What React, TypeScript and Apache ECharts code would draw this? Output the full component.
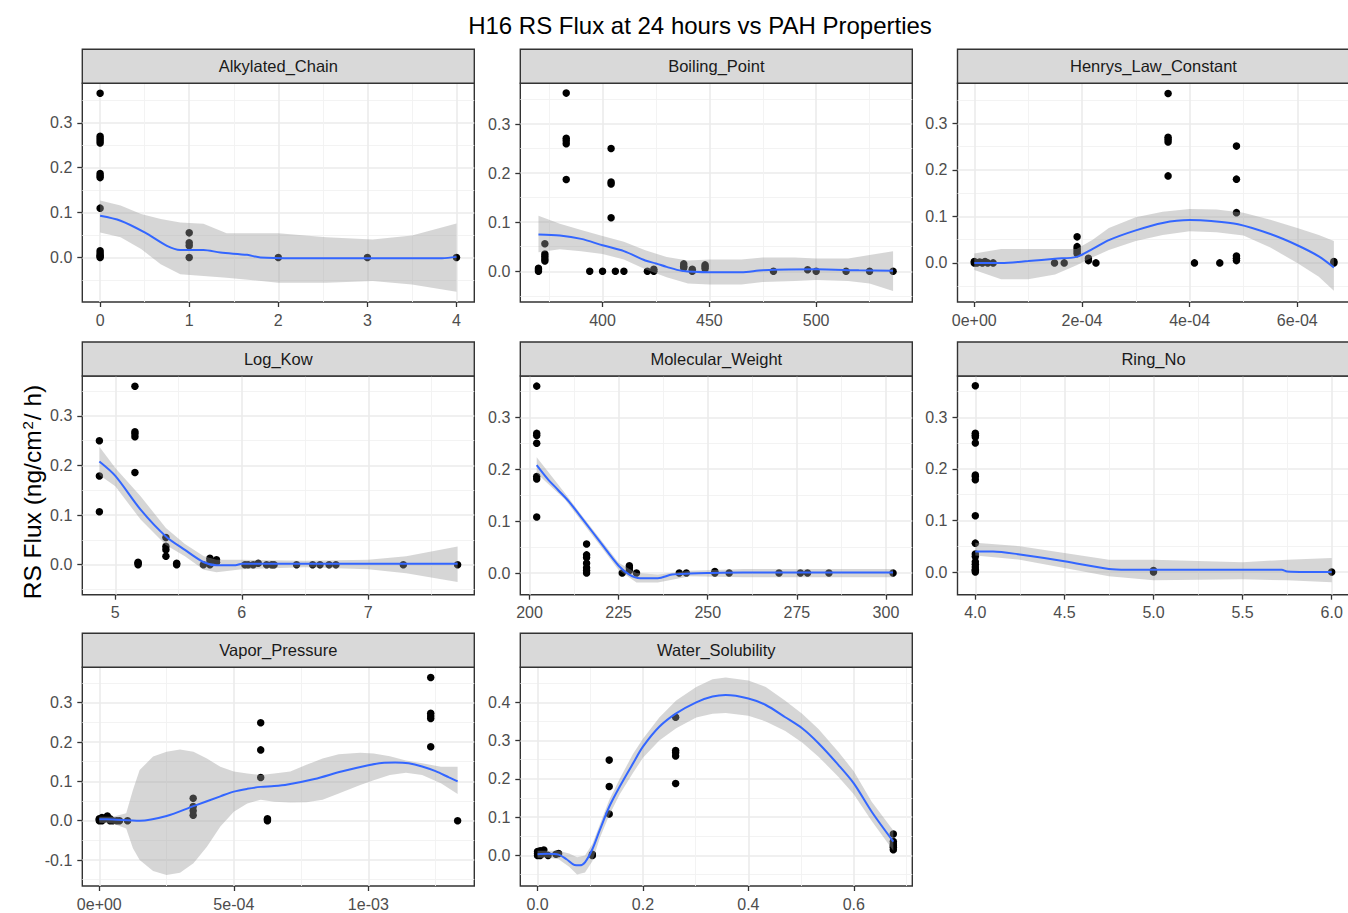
import React, { useEffect, useRef } from "react";
import * as echarts from "echarts";

// ---------------- DATA ----------------
const title = "H16 RS Flux at 24 hours vs PAH Properties";
const panelNames = [
  "Alkylated_Chain",
  "Boiling_Point",
  "Henrys_Law_Constant",
  "Log_Kow",
  "Molecular_Weight",
  "Ring_No",
  "Vapor_Pressure",
  "Water_Solubility",
];

// tick values / labels
const yTicksStd = [0, 0.1, 0.2, 0.3];
const yLabelsStd = ["0.0", "0.1", "0.2", "0.3"];
const yTicksVp = [-0.1, 0, 0.1, 0.2, 0.3];
const yLabelsVp = ["-0.1", "0.0", "0.1", "0.2", "0.3"];
const yTicksWs = [0, 0.1, 0.2, 0.3, 0.4];
const yLabelsWs = ["0.0", "0.1", "0.2", "0.3", "0.4"];

const alkTicks = [0, 1, 2, 3, 4];
const alkLabels = ["0", "1", "2", "3", "4"];
const bpTicks = [400, 450, 500];
const bpLabels = ["400", "450", "500"];
const hlcTicks = [0, 2e-4, 4e-4, 6e-4];
const hlcLabels = ["0e+00", "2e-04", "4e-04", "6e-04"];
const lkTicks = [5, 6, 7];
const lkLabels = ["5", "6", "7"];
const mwTicks = [200, 225, 250, 275, 300];
const mwLabels = ["200", "225", "250", "275", "300"];
const rnTicks = [4, 4.5, 5, 5.5, 6];
const rnLabels = ["4.0", "4.5", "5.0", "5.5", "6.0"];
const vpTicks = [0, 5e-4, 1e-3];
const vpLabels = ["0e+00", "5e-04", "1e-03"];
const wsTicks = [0, 0.2, 0.4, 0.6];
const wsLabels = ["0.0", "0.2", "0.4", "0.6"];

// Alkylated_Chain
const alkPtsX = [0, 0, 0, 0, 0, 0, 0, 0, 0, 0, 0, 0, 0, 0, 1, 1, 1, 1, 2, 3, 4];
const alkPtsY = [0.366, 0.27, 0.265, 0.26, 0.255, 0.187, 0.182, 0.178, 0.11, 0.015, 0.01, 0.005, 0.003, 0, 0.055, 0.033, 0.026, 0, 0, 0, 0];
const alkFitX = [0, 0.23, 0.5, 0.75, 0.9, 1.16, 1.35, 1.65, 1.8, 2.2, 2.6, 3, 3.4, 3.84, 4];
const alkFit = [0.093, 0.082, 0.056, 0.026, 0.017, 0.017, 0.011, 0.006, 0.0, -0.0015, -0.0015, -0.0015, -0.0015, -0.0015, 0.0015];
const alkBandX = [0, 0.23, 0.46, 0.68, 0.9, 1.16, 1.42, 2.0, 2.54, 3.06, 3.5, 4];
const alkHi = [0.127, 0.116, 0.097, 0.086, 0.078, 0.075, 0.054, 0.054, 0.045, 0.04, 0.049, 0.076];
const alkLo = [0.056, 0.045, 0.019, -0.015, -0.037, -0.041, -0.045, -0.056, -0.056, -0.052, -0.06, -0.076];

// Boiling_Point
const bpPtsX = [370, 370, 370, 373, 373, 373, 373, 373, 383, 383, 383, 383, 383, 394, 400, 404, 404, 404, 404, 406, 410, 421, 424, 424, 438, 438, 438, 442, 442, 448, 448, 448, 480, 496, 500, 514, 525, 536];
const bpPtsY = [0.006, 0.003, 0, 0.056, 0.035, 0.03, 0.025, 0.021, 0.363, 0.271, 0.266, 0.26, 0.187, 0, 0, 0.25, 0.182, 0.178, 0.109, 0, 0, 0, 0, 0.004, 0.015, 0.01, 0.007, 0.004, 0, 0.013, 0.009, 0.005, 0, 0.003, 0, 0, 0, 0];
const bpFitX = [370, 380, 390, 400, 410, 420, 425, 430, 437, 450, 465, 475, 500, 520, 536];
const bpFit = [0.075, 0.073, 0.066, 0.053, 0.041, 0.022, 0.016, 0.009, 0.001, -0.002, -0.002, 0.002, 0.004, 0.002, 0.001];
const bpBandX = [370, 380, 390, 400, 410, 420, 430, 440, 450, 465, 475, 490, 500, 515, 525, 536];
const bpHi = [0.113, 0.097, 0.084, 0.072, 0.06, 0.043, 0.029, 0.022, 0.024, 0.024, 0.028, 0.028, 0.026, 0.026, 0.033, 0.041];
const bpLo = [0.039, 0.045, 0.041, 0.035, 0.024, 0.004, -0.012, -0.025, -0.027, -0.027, -0.022, -0.02, -0.018, -0.02, -0.025, -0.04];

// Henrys_Law_Constant
const hlcPtsX = [0, 0, 0.05e-4, 0.1e-4, 0.15e-4, 0.2e-4, 0.25e-4, 0.35e-4, 1.49e-4, 1.67e-4, 1.91e-4, 1.91e-4, 1.91e-4, 1.91e-4, 1.91e-4, 2.12e-4, 2.12e-4, 2.26e-4, 3.6e-4, 3.6e-4, 3.6e-4, 3.6e-4, 3.6e-4, 4.09e-4, 4.56e-4, 4.87e-4, 4.87e-4, 4.87e-4, 4.87e-4, 4.87e-4, 4.87e-4, 6.68e-4, 6.68e-4];
const hlcPtsY = [0, 0.003, 0, 0.002, 0, 0.003, 0, 0, 0, 0, 0.056, 0.035, 0.03, 0.025, 0.02, 0.01, 0.005, 0, 0.364, 0.27, 0.265, 0.26, 0.187, 0, 0, 0.251, 0.18, 0.108, 0.015, 0.01, 0.005, 0.003, 0];
const hlcFitX = [0, 0.5e-4, 1e-4, 1.5e-4, 1.9e-4, 2.2e-4, 2.5e-4, 3e-4, 3.5e-4, 4e-4, 4.4e-4, 4.9e-4, 5.5e-4, 6e-4, 6.4e-4, 6.68e-4];
const hlcFit = [0, 0, 0.004, 0.009, 0.013, 0.03, 0.049, 0.07, 0.086, 0.092, 0.09, 0.083, 0.062, 0.038, 0.014, -0.01];
const hlcBandX = [0, 0.5e-4, 1e-4, 1.5e-4, 1.9e-4, 2.2e-4, 2.5e-4, 3e-4, 3.5e-4, 4e-4, 4.5e-4, 5e-4, 5.5e-4, 6e-4, 6.4e-4, 6.68e-4];
const hlcHi = [0.02, 0.03, 0.03, 0.03, 0.03, 0.05, 0.075, 0.098, 0.11, 0.116, 0.115, 0.108, 0.093, 0.075, 0.06, 0.047];
const hlcLo = [-0.015, -0.035, -0.035, -0.025, -0.005, 0.012, 0.028, 0.047, 0.06, 0.068, 0.066, 0.059, 0.033, 0.0, -0.03, -0.06];

// Log_Kow
const lkPtsX = [4.874, 4.874, 4.874, 5.155, 5.155, 5.155, 5.155, 5.155, 5.18, 5.18, 5.18, 5.4, 5.4, 5.4, 5.4, 5.485, 5.485, 5.696, 5.748, 5.748, 5.748, 5.8, 5.8, 6.025, 6.05, 6.09, 6.13, 6.196, 6.236, 6.255, 6.433, 6.56, 6.618, 6.69, 6.744, 7.277, 7.706];
const lkPtsY = [0.25, 0.179, 0.107, 0.36, 0.268, 0.264, 0.258, 0.186, 0.005, 0.003, 0, 0.055, 0.037, 0.03, 0.017, 0.003, 0, 0, 0.013, 0.008, 0, 0.01, 0.005, 0, 0, 0, 0.003, 0, 0, 0, 0, 0, 0, 0, 0, 0, 0];
const lkFitX = [4.874, 5.0, 5.2, 5.4, 5.55, 5.7, 5.8, 5.95, 6.0, 6.5, 7.0, 7.706];
const lkFit = [0.208, 0.179, 0.111, 0.057, 0.03, 0.005, -0.001, -0.001, 0.002, 0.002, 0.002, 0.002];
const lkBandX = [4.874, 5.0, 5.2, 5.4, 5.55, 5.7, 5.8, 6.0, 6.5, 7.0, 7.3, 7.706];
const lkHi = [0.238, 0.195, 0.138, 0.074, 0.042, 0.017, 0.01, 0.01, 0.008, 0.01, 0.017, 0.037];
const lkLo = [0.181, 0.158, 0.091, 0.04, 0.017, -0.01, -0.015, -0.009, -0.005, -0.009, -0.017, -0.035];

// Molecular_Weight
const mwPtsX = [202, 202, 202, 202, 202, 202, 202, 216, 216, 216, 216, 216, 216, 216, 226, 228, 228, 228, 230, 242, 244, 252, 252, 256, 270, 276, 278, 284, 302];
const mwPtsY = [0.36, 0.269, 0.265, 0.25, 0.186, 0.181, 0.108, 0.056, 0.035, 0.03, 0.019, 0.01, 0.005, 0, 0, 0.014, 0.01, 0.005, 0, 0, 0, 0.003, 0, 0, 0, 0, 0, 0, 0];
const mwFitX = [202, 205, 208, 211, 215, 220, 225, 228, 231, 236, 240, 245, 250, 260, 280, 302];
const mwFit = [0.208, 0.182, 0.16, 0.138, 0.103, 0.058, 0.014, -0.003, -0.01, -0.01, -0.003, -0.001, 0.0, 0.001, 0.001, 0.001];
const mwBandX = [202, 210, 215, 220, 225, 230, 236, 245, 260, 280, 302];
const mwHi = [0.223, 0.153, 0.108, 0.064, 0.02, 0.0, -0.003, 0.0045, 0.008, 0.008, 0.008];
const mwLo = [0.192, 0.141, 0.096, 0.051, 0.006, -0.018, -0.018, -0.006, -0.008, -0.008, -0.008];

// Ring_No
const rnPtsX = [4, 4, 4, 4, 4, 4, 4, 4, 4, 4, 4, 4, 4, 4, 4, 4, 4, 4, 5, 5, 6];
const rnPtsY = [0.361, 0.269, 0.265, 0.262, 0.25, 0.188, 0.185, 0.179, 0.109, 0.056, 0.035, 0.03, 0.02, 0.015, 0.01, 0.005, 0.003, 0, 0.003, 0, 0];
const rnFitX = [4, 4.1, 4.25, 4.5, 4.75, 4.85, 5, 5.5, 5.72, 5.75, 6];
const rnFit = [0.04, 0.04, 0.034, 0.021, 0.006, 0.0045, 0.0045, 0.0045, 0.0045, 0.0013, 0];
const rnBandX = [4, 4.25, 4.5, 4.75, 5, 5.5, 5.75, 6];
const rnHi = [0.057, 0.05, 0.037, 0.024, 0.024, 0.019, 0.024, 0.027];
const rnLo = [0.032, 0.024, 0.008, -0.008, -0.016, -0.014, -0.016, -0.02];

// Vapor_Pressure
const vpPtsX = [0, 0, 0, 0.1e-4, 0.1e-4, 0.2e-4, 0.3e-4, 0.4e-4, 0.4e-4, 0.5e-4, 0.65e-4, 0.75e-4, 1.05e-4, 3.49e-4, 3.49e-4, 3.49e-4, 3.49e-4, 6.0e-4, 6.0e-4, 6.0e-4, 6.25e-4, 6.25e-4, 6.25e-4, 12.32e-4, 12.32e-4, 12.32e-4, 12.32e-4, 12.32e-4, 13.32e-4];
const vpPtsY = [0.005, 0.003, 0, 0.008, 0, 0.005, 0.012, 0.005, 0, 0, 0, 0, 0, 0.057, 0.036, 0.025, 0.014, 0.249, 0.18, 0.11, 0.005, 0.003, 0, 0.364, 0.273, 0.266, 0.26, 0.188, 0];
const vpFitX = [0, 0.5e-4, 1.5e-4, 2.5e-4, 3.5e-4, 4.5e-4, 5e-4, 5.5e-4, 6e-4, 6.5e-4, 7e-4, 8e-4, 9e-4, 10e-4, 10.5e-4, 11e-4, 11.5e-4, 12e-4, 12.5e-4, 13e-4, 13.32e-4];
const vpFit = [0.004, 0.003, 0.0, 0.012, 0.037, 0.062, 0.074, 0.081, 0.086, 0.088, 0.092, 0.106, 0.125, 0.141, 0.147, 0.148, 0.146, 0.138, 0.126, 0.11, 0.1];
const vpBandX = [0, 0.5e-4, 1.0e-4, 1.25e-4, 1.5e-4, 2.0e-4, 2.5e-4, 3.0e-4, 3.5e-4, 4.0e-4, 4.5e-4, 5.0e-4, 5.5e-4, 6.0e-4, 6.5e-4, 7.1e-4, 7.7e-4, 8.3e-4, 8.9e-4, 9.7e-4, 10.2e-4, 10.8e-4, 11.4e-4, 12.0e-4, 12.7e-4, 13.32e-4];
const vpHi = [0.01, 0.01, 0.019, 0.078, 0.129, 0.163, 0.175, 0.181, 0.175, 0.158, 0.137, 0.125, 0.12, 0.116, 0.12, 0.125, 0.142, 0.158, 0.169, 0.173, 0.171, 0.164, 0.153, 0.146, 0.137, 0.137];
const vpLo = [-0.005, -0.007, -0.02, -0.07, -0.1, -0.128, -0.138, -0.132, -0.108, -0.066, -0.015, 0.023, 0.044, 0.053, 0.048, 0.046, 0.047, 0.053, 0.069, 0.091, 0.103, 0.116, 0.122, 0.116, 0.095, 0.068];

// Water_Solubility
const wsPtsX = [0, 0, 0, 0.005, 0.005, 0.01, 0.012, 0.02, 0.035, 0.04, 0.104, 0.104, 0.136, 0.136, 0.136, 0.262, 0.262, 0.262, 0.262, 0.262, 0.675, 0.675, 0.675, 0.675, 0.675, 0.675];
const wsPtsY = [0, 0.005, 0.01, 0.012, 0, 0.005, 0.014, 0, 0.003, 0.005, 0, 0.003, 0.249, 0.18, 0.108, 0.361, 0.274, 0.268, 0.26, 0.188, 0.056, 0.036, 0.03, 0.025, 0.021, 0.015];
const wsFitX = [0, 0.02, 0.04, 0.055, 0.07, 0.08, 0.09, 0.104, 0.118, 0.136, 0.156, 0.181, 0.2, 0.231, 0.263, 0.301, 0.332, 0.357, 0.4, 0.433, 0.47, 0.502, 0.533, 0.571, 0.6, 0.634, 0.675];
const wsFit = [0.003, 0.004, 0.002, -0.01, -0.025, -0.026, -0.018, 0.016, 0.066, 0.127, 0.18, 0.24, 0.284, 0.336, 0.371, 0.4, 0.415, 0.419, 0.41, 0.393, 0.361, 0.332, 0.293, 0.236, 0.188, 0.114, 0.036];
const wsBandX = [0, 0.02, 0.04, 0.06, 0.075, 0.09, 0.104, 0.118, 0.136, 0.156, 0.181, 0.2, 0.231, 0.263, 0.301, 0.332, 0.357, 0.4, 0.433, 0.47, 0.502, 0.533, 0.571, 0.6, 0.634, 0.675];
const wsHi = [0.012, 0.012, 0.012, 0.005, -0.005, 0.0, 0.03, 0.08, 0.145, 0.2, 0.265, 0.305, 0.36, 0.405, 0.44, 0.46, 0.465, 0.457, 0.44, 0.404, 0.37, 0.33, 0.27, 0.22, 0.14, 0.065];
const wsLo = [-0.006, -0.006, -0.01, -0.03, -0.05, -0.045, -0.015, 0.045, 0.105, 0.16, 0.215, 0.255, 0.3, 0.332, 0.36, 0.37, 0.372, 0.365, 0.35, 0.325, 0.295, 0.258, 0.205, 0.16, 0.09, 0.012];

// ---------------- LAYOUT / STYLE ----------------
const W = 1348;
const H = 913;
const FONT = '"Liberation Sans", Arial, Helvetica, sans-serif';
const COL_LEFT = [82.3, 520.3, 957.5];
const ROW_TOP = [83.3, 376, 667.3];
const PW = 392;
const PH = 218.7;
const STRIP_H = 34;

type Panel = {
  name: string;
  xr: [number, number];
  yr: [number, number];
  xt: number[];
  xl: string[];
  yt: number[];
  yl: string[];
  px: number[];
  py: number[];
  fx: number[];
  fy: number[];
  bx: number[];
  lo: number[];
  hi: number[];
};

const panels: Panel[] = [
  { name: panelNames[0], xr: [-0.2, 4.2], yr: [-0.099, 0.388], xt: alkTicks, xl: alkLabels, yt: yTicksStd, yl: yLabelsStd, px: alkPtsX, py: alkPtsY, fx: alkFitX, fy: alkFit, bx: alkBandX, lo: alkLo, hi: alkHi },
  { name: panelNames[1], xr: [361.5, 545], yr: [-0.0626, 0.383], xt: bpTicks, xl: bpLabels, yt: yTicksStd, yl: yLabelsStd, px: bpPtsX, py: bpPtsY, fx: bpFitX, fy: bpFit, bx: bpBandX, lo: bpLo, hi: bpHi },
  { name: panelNames[2], xr: [-0.312e-4, 6.97e-4], yr: [-0.084, 0.386], xt: hlcTicks, xl: hlcLabels, yt: yTicksStd, yl: yLabelsStd, px: hlcPtsX, py: hlcPtsY, fx: hlcFitX, fy: hlcFit, bx: hlcBandX, lo: hlcLo, hi: hlcHi },
  { name: panelNames[3], xr: [4.739, 7.838], yr: [-0.0604, 0.3805], xt: lkTicks, xl: lkLabels, yt: yTicksStd, yl: yLabelsStd, px: lkPtsX, py: lkPtsY, fx: lkFitX, fy: lkFit, bx: lkBandX, lo: lkLo, hi: lkHi },
  { name: panelNames[4], xr: [197.4, 307.4], yr: [-0.0417, 0.3795], xt: mwTicks, xl: mwLabels, yt: yTicksStd, yl: yLabelsStd, px: mwPtsX, py: mwPtsY, fx: mwFitX, fy: mwFit, bx: mwBandX, lo: mwLo, hi: mwHi },
  { name: panelNames[5], xr: [3.9, 6.1], yr: [-0.0439, 0.38], xt: rnTicks, xl: rnLabels, yt: yTicksStd, yl: yLabelsStd, px: rnPtsX, py: rnPtsY, fx: rnFitX, fy: rnFit, bx: rnBandX, lo: rnLo, hi: rnHi },
  { name: panelNames[6], xr: [-0.632e-4, 13.94e-4], yr: [-0.166, 0.39], xt: vpTicks, xl: vpLabels, yt: yTicksVp, yl: yLabelsVp, px: vpPtsX, py: vpPtsY, fx: vpFitX, fy: vpFit, bx: vpBandX, lo: vpLo, hi: vpHi },
  { name: panelNames[7], xr: [-0.0327, 0.711], yr: [-0.08, 0.4915], xt: wsTicks, xl: wsLabels, yt: yTicksWs, yl: yLabelsWs, px: wsPtsX, py: wsPtsY, fx: wsFitX, fy: wsFit, bx: wsBandX, lo: wsLo, hi: wsHi },
];

function minors(ticks: number[], min: number, max: number): number[] {
  const step = ticks[1] - ticks[0];
  const out: number[] = [];
  for (let k = -1; k < ticks.length; k++) {
    const v = +(ticks[0] + step * (k + 0.5)).toPrecision(12);
    if (v > min && v < max) out.push(v);
  }
  return out;
}

function fmt(ticks: number[], labels: string[]) {
  return (v: number) => {
    for (let i = 0; i < ticks.length; i++) {
      if (Math.abs(ticks[i] - v) <= 1e-12 + Math.abs(ticks[i]) * 1e-7) return labels[i];
    }
    return "";
  };
}

function buildOption() {
  const grids: any[] = [];
  const xAxes: any[] = [];
  const yAxes: any[] = [];
  const series: any[] = [];
  const graphics: any[] = [];

  panels.forEach((p, i) => {
    const col = i % 3;
    const row = Math.floor(i / 3);
    const left = COL_LEFT[col];
    const top = ROW_TOP[row];
    grids.push({
      left,
      top,
      width: PW,
      height: PH,
      show: true,
      borderColor: "#333333",
      borderWidth: 1.4,
      backgroundColor: "transparent",
      containLabel: false,
      outerBoundsMode: "none",
    });

    const common = (r: [number, number]) => ({
      type: "value",
      gridIndex: i,
      min: r[0],
      max: r[1],
      axisLine: { show: false, onZero: false },
    });

    // major x
    xAxes.push({
      ...common(p.xr),
      position: "bottom",
      axisTick: { show: true, length: 5, lineStyle: { color: "#333333", width: 1.3 }, customValues: p.xt },
      axisLabel: {
        customValues: p.xt,
        formatter: fmt(p.xt, p.xl),
        color: "#4D4D4D",
        fontSize: 16,
        fontFamily: FONT,
        margin: 10,
      },
      splitLine: { show: true, lineStyle: { color: "#EBEBEB", width: 1.6 } },
    });
    // minor x
    xAxes.push({
      ...common(p.xr),
      position: "top",
      axisTick: { show: false, customValues: minors(p.xt, p.xr[0], p.xr[1]) },
      axisLabel: { show: false },
      splitLine: { show: true, lineStyle: { color: "#F2F2F2", width: 0.9 } },
    });
    // major y
    yAxes.push({
      ...common(p.yr),
      position: "left",
      axisTick: { show: true, length: 5, lineStyle: { color: "#333333", width: 1.3 }, customValues: p.yt },
      axisLabel: {
        customValues: p.yt,
        formatter: fmt(p.yt, p.yl),
        color: "#4D4D4D",
        fontSize: 16,
        fontFamily: FONT,
        margin: 10,
      },
      splitLine: { show: true, lineStyle: { color: "#EBEBEB", width: 1.6 } },
    });
    // minor y
    yAxes.push({
      ...common(p.yr),
      position: "right",
      axisTick: { show: false, customValues: minors(p.yt, p.yr[0], p.yr[1]) },
      axisLabel: { show: false },
      splitLine: { show: true, lineStyle: { color: "#F2F2F2", width: 0.9 } },
    });

    const xi = 2 * i;
    const yi = 2 * i;

    series.push({
      type: "scatter",
      xAxisIndex: xi,
      yAxisIndex: yi,
      data: p.px.map((x, k) => [x, p.py[k]]),
      symbolSize: 7.5,
      itemStyle: { color: "#000000", opacity: 1 },
      silent: true,
      z: 2,
    });

    const bx = p.bx;
    const lo = p.lo;
    const hi = p.hi;
    series.push({
      type: "custom",
      xAxisIndex: xi,
      yAxisIndex: yi,
      data: bx.map((x, k) => [x, lo[k], hi[k]]),
      encode: { x: 0, y: [1, 2] },
      silent: true,
      z: 3,
      renderItem: (params: any, api: any) => {
        if (params.dataIndex !== 0) return null;
        const up = bx.map((x, k) => api.coord([x, hi[k]]));
        const dn = bx.map((x, k) => api.coord([x, lo[k]])).reverse();
        return {
          type: "polygon",
          shape: { points: up.concat(dn) },
          style: { fill: "rgba(153,153,153,0.4)", stroke: "none" },
          silent: true,
        };
      },
    });

    series.push({
      type: "line",
      xAxisIndex: xi,
      yAxisIndex: yi,
      data: p.fx.map((x, k) => [x, p.fy[k]]),
      showSymbol: false,
      symbol: "none",
      smooth: 0.3,
      lineStyle: { color: "#3366FF", width: 2 },
      silent: true,
      z: 4,
    });

    // strip
    graphics.push({
      type: "rect",
      shape: { x: left, y: top - STRIP_H, width: PW, height: STRIP_H },
      style: { fill: "#D9D9D9", stroke: "#333333", lineWidth: 1.4 },
      silent: true,
      z: 10,
    });
    graphics.push({
      type: "text",
      x: left + PW / 2,
      y: top - STRIP_H / 2,
      style: {
        text: p.name,
        fill: "#1A1A1A",
        fontSize: 16.5,
        fontFamily: FONT,
        align: "center",
        verticalAlign: "middle",
        textAlign: "center",
        textVerticalAlign: "middle",
      },
      silent: true,
      z: 11,
    });
  });

  graphics.push({
    type: "text",
    x: 700,
    y: 25,
    style: {
      text: title,
      fill: "#000000",
      fontSize: 24,
      fontFamily: FONT,
      align: "center",
      verticalAlign: "middle",
      textAlign: "center",
      textVerticalAlign: "middle",
    },
    silent: true,
    z: 11,
  });

  graphics.push({
    type: "text",
    x: 32,
    y: 492,
    rotation: Math.PI / 2,
    style: {
      text: "RS Flux (ng/cm{sup|2}/ h)",
      fill: "#000000",
      fontSize: 24.5,
      fontFamily: FONT,
      align: "center",
      verticalAlign: "middle",
      textAlign: "center",
      textVerticalAlign: "middle",
      rich: {
        sup: { fontSize: 15, fontFamily: FONT, fill: "#000000", verticalAlign: "top", padding: [0, 1, 8, 1] },
      },
    },
    silent: true,
    z: 11,
  });

  return {
    animation: false,
    backgroundColor: "#ffffff",
    grid: grids,
    xAxis: xAxes,
    yAxis: yAxes,
    series,
    graphic: { elements: graphics },
  };
}

export default function App() {
  const ref = useRef<HTMLDivElement>(null);
  useEffect(() => {
    if (!ref.current) return;
    const chart = echarts.init(ref.current, null, { renderer: "svg" });
    chart.setOption(buildOption());
    return () => chart.dispose();
  }, []);
  return (
    <div
      ref={ref}
      style={{ position: "absolute", left: 0, top: 0, width: W, height: H, background: "#ffffff" }}
    />
  );
}
